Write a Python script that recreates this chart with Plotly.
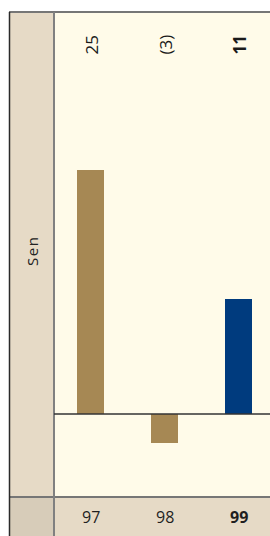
import plotly.graph_objects as go

# ---- data ----
categories = ["97", "98", "99"]
values = [25, -3, 11.8]
value_labels = ["25", "(3)", "11"]
bar_colors = ["#A68854", "#A68854", "#003B7E"]
row_label = "Sen"

W, H = 270, 536
px_per_unit = 9.75
zero_px = 414
top_px, bot_px = 12, 497
left_px = 54
col_w = 74
first_center = 90.5

def fy(p):  # pixel y -> paper fraction
    return (H - p) / H

def fx(p):
    return p / W

y_top = (zero_px - top_px) / px_per_unit
y_bot = -(bot_px - zero_px) / px_per_unit
x_left = -(first_center - left_px) / col_w
x_right = (W - first_center) / col_w

fig = go.Figure()
fig.add_trace(go.Bar(
    x=list(range(len(categories))), y=values,
    marker=dict(color=bar_colors, line=dict(width=0)),
    width=27 / col_w, hoverinfo="skip", showlegend=False,
))

shapes = []
# left label panel
shapes.append(dict(type="rect", xref="paper", yref="paper", layer="below",
                   x0=fx(9), x1=fx(left_px), y0=fy(bot_px), y1=fy(top_px),
                   fillcolor="#E6DAC6", line=dict(width=0)))
# bottom category row
shapes.append(dict(type="rect", xref="paper", yref="paper", layer="below",
                   x0=fx(left_px), x1=1, y0=0, y1=fy(bot_px),
                   fillcolor="#E6DAC6", line=dict(width=0)))
# bottom-left corner cell
shapes.append(dict(type="rect", xref="paper", yref="paper", layer="below",
                   x0=fx(9), x1=fx(left_px), y0=0, y1=fy(bot_px),
                   fillcolor="#D7CCB9", line=dict(width=0)))
# grid lines
shapes.append(dict(type="line", xref="paper", yref="paper",
                   x0=fx(9), x1=1, y0=fy(top_px), y1=fy(top_px),
                   line=dict(color="#767676", width=2)))
shapes.append(dict(type="line", xref="paper", yref="paper",
                   x0=fx(9), x1=1, y0=fy(bot_px), y1=fy(bot_px),
                   line=dict(color="#767676", width=2)))
shapes.append(dict(type="line", xref="paper", yref="paper",
                   x0=fx(left_px), x1=fx(left_px), y0=0, y1=fy(top_px),
                   line=dict(color="#808080", width=2)))
shapes.append(dict(type="line", xref="paper", yref="paper",
                   x0=fx(9.5), x1=fx(9.5), y0=0, y1=fy(top_px),
                   line=dict(color="#2a2a2a", width=1.5)))
# zero line
shapes.append(dict(type="line", xref="paper", yref="y",
                   x0=fx(left_px), x1=1, y0=0, y1=0,
                   line=dict(color="#333333", width=1.5)))

annotations = []
for i, (lab, cat) in enumerate(zip(value_labels, categories)):
    bold = i == len(categories) - 1
    annotations.append(dict(x=i, xref="x", y=fy(45), yref="paper",
                            xanchor="center", yanchor="middle",
                            text=f"<b>{lab}</b>" if bold else lab, showarrow=False,
                            textangle=-90,
                            font=dict(family="Open Sans, DejaVu Sans", size=17, color="#1a1a1a")))
    annotations.append(dict(x=i, xref="x", y=fy(517), yref="paper",
                            xanchor="center", yanchor="middle",
                            text=f"<b>{cat}</b>" if bold else cat, showarrow=False,
                            font=dict(family="Open Sans, DejaVu Sans", size=16, color="#1f1f1f")))
annotations.append(dict(x=fx(32), xref="paper", y=fy(252), yref="paper",
                        xanchor="center", yanchor="middle",
                        text="\u200a".join(row_label), showarrow=False, textangle=-90,
                        font=dict(family="Open Sans, DejaVu Sans", size=15, color="#222222")))

fig.update_layout(
    width=W, height=H,
    margin=dict(l=0, r=0, t=0, b=0),
    paper_bgcolor="#FFFFFF",
    plot_bgcolor="#FFFBE9",
    xaxis=dict(range=[x_left, x_right], domain=[fx(left_px), 1],
               showgrid=False, zeroline=False, showticklabels=False, fixedrange=True),
    yaxis=dict(range=[y_bot, y_top], domain=[fy(bot_px), fy(top_px)],
               showgrid=False, zeroline=False, showticklabels=False, fixedrange=True),
    shapes=shapes,
    annotations=annotations,
    bargap=0,
)

fig.write_html("out.html", config={"displayModeBar": False},
               post_script="document.body.style.margin='0';document.body.style.overflow='hidden';")
